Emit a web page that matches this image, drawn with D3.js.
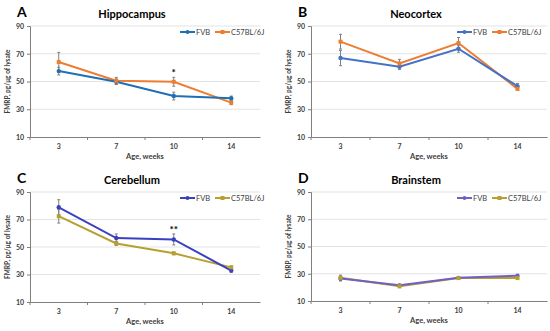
<!DOCTYPE html>
<html>
<head>
<meta charset="utf-8">
<script src="https://cdn.jsdelivr.net/npm/d3@7"></script>
<style>
  body { margin: 0; background: #fff; }
  text { font-family: Lato, "Open Sans", sans-serif; }
</style>
</head>
<body>
<div id="chart"></div>
<script>
const ages = ["3", "7", "10", "14"];
const yTicks = [10, 30, 50, 70, 90];
const seriesNames = ["FVB", "C57BL/6J"];

// panel values (mean, sem)
const hippoFVB = [57.5, 49.8, 39.5, 38];
const hippoFVBErr = [2.8, 2, 2.8, 1.5];
const hippoC57 = [64, 50.5, 49.8, 34.8];
const hippoC57Err = [7, 2.5, 3.2, 1.5];

const neoFVB = [66.9, 60.6, 73.6, 46.6];
const neoFVBErr = [5.5, 2, 2.5, 2];
const neoC57 = [78.7, 63, 77.7, 44.7];
const neoC57Err = [5.3, 3, 4, 1];

const cereFVB = [78.9, 56.5, 55.5, 32.9];
const cereFVBErr = [5.5, 3, 4, 1.5];
const cereC57 = [72.4, 52.6, 45.4, 35.2];
const cereC57Err = [5, 1.5, 1, 1];

const brainFVB = [26.5, 21.5, 27, 28.5];
const brainFVBErr = [1.8, 1, 1, 1];
const brainC57 = [27, 20.8, 26.8, 26.8];
const brainC57Err = [2, 1, 0.8, 1];

const panels = [
  {letter: "A", title: "Hippocampus", x0: 30, x1: 260, y0: 26, y1: 137, legendX: 180,
   colors: ["#1f6fb2", "#ed7d31"], a: hippoFVB, aErr: hippoFVBErr, b: hippoC57, bErr: hippoC57Err,
   star: {i: 2, text: "*"}},
  {letter: "B", title: "Neocortex", x0: 311, x1: 547, y0: 26, y1: 137, legendX: 457,
   colors: ["#4472c4", "#ed7d31"], a: neoFVB, aErr: neoFVBErr, b: neoC57, bErr: neoC57Err},
  {letter: "C", title: "Cerebellum", x0: 30, x1: 260, y0: 192, y1: 302, legendX: 180,
   colors: ["#3b40c0", "#b7a030"], a: cereFVB, aErr: cereFVBErr, b: cereC57, bErr: cereC57Err,
   star: {i: 2, text: "**"}},
  {letter: "D", title: "Brainstem", x0: 311, x1: 547, y0: 192, y1: 301, legendX: 457,
   colors: ["#7060c4", "#b7a030"], a: brainFVB, aErr: brainFVBErr, b: brainC57, bErr: brainC57Err}
];

const svg = d3.select("#chart").append("svg")
  .attr("width", 550).attr("height", 331);

panels.forEach(p => {
  const g = svg.append("g");
  const x = d3.scaleBand().domain(ages).range([p.x0, p.x1]);
  const y = d3.scaleLinear().domain([10, 90]).range([p.y1, p.y0]);
  const cx = d => x(d) + x.bandwidth() / 2;
  const mid = (p.x0 + p.x1) / 2;

  // gridlines
  g.selectAll(".grid").data(yTicks.slice(1))
    .enter().append("line")
    .attr("x1", p.x0).attr("x2", p.x1)
    .attr("y1", d => y(d)).attr("y2", d => y(d))
    .style("stroke", "#e3e3e3").style("stroke-width", 1);

  const yAxis = g.append("g")
    .attr("transform", "translate(" + p.x0 + ",0)")
    .call(d3.axisLeft(y).tickValues(yTicks).tickSize(3).tickPadding(3));
  const xAxis = g.append("g")
    .attr("transform", "translate(0," + p.y1 + ")")
    .call(d3.axisBottom(x).tickSize(0).tickPadding(7));
  xAxis.selectAll(".tick").append("line")
    .attr("x1", -x.bandwidth() / 2).attr("x2", -x.bandwidth() / 2)
    .attr("y1", 0).attr("y2", 3).style("stroke", "#7f7f7f");
  [yAxis, xAxis].forEach(a => {
    a.select(".domain").style("stroke", "#7f7f7f");
    a.selectAll(".tick line").style("stroke", "#7f7f7f");
    a.selectAll("text").style("font-size", "7px").style("font-weight", "bold").style("fill", "#404040");
  });

  // labels
  g.append("text")
    .attr("x", mid).attr("y", p.y1 + 22)
    .attr("text-anchor", "middle")
    .style("font-size", "7.5px").style("font-weight", "bold").style("fill", "#404040")
    .text("Age, weeks");
  g.append("text")
    .attr("transform", "translate(" + (p.x0 - 20) + "," + ((p.y0 + p.y1) / 2) + ") rotate(-90)")
    .attr("text-anchor", "middle")
    .style("font-size", "6.5px").style("font-weight", "bold").style("fill", "#404040")
    .text("FMRP, pg/μg of lysate");
  g.append("text")
    .attr("x", mid - 13).attr("y", p.y0 - 8)
    .attr("text-anchor", "middle")
    .style("font-size", "11px").style("font-weight", "bold").style("fill", "#000")
    .text(p.title);
  g.append("text")
    .attr("x", p.x0 - 13).attr("y", p.y0 - 9)
    .style("font-size", "14px").style("font-weight", "bold").style("fill", "#000")
    .text(p.letter);

  const series = [
    {vals: p.a, err: p.aErr, color: p.colors[0], shape: "circle"},
    {vals: p.b, err: p.bErr, color: p.colors[1], shape: "square"}
  ];

  const line = d3.line().x((d, i) => cx(ages[i])).y(d => y(d));

  series.slice().reverse().forEach(s => {
    g.append("path").datum(s.vals)
      .attr("d", line)
      .style("fill", "none").style("stroke", s.color).style("stroke-width", 2);
  });

  series.forEach(s => {
    const eb = g.append("g");
    s.vals.forEach((v, i) => {
      const px = cx(ages[i]);
      eb.append("line").attr("x1", px).attr("x2", px)
        .attr("y1", y(v - s.err[i])).attr("y2", y(v + s.err[i]));
      [v - s.err[i], v + s.err[i]].forEach(e => {
        eb.append("line").attr("x1", px - 1.5).attr("x2", px + 1.5)
          .attr("y1", y(e)).attr("y2", y(e));
      });
    });
    eb.selectAll("line").style("stroke", "#808080").style("stroke-width", 1);
  });

  series.forEach(s => {
    if (s.shape === "circle") {
      g.selectAll(null).data(s.vals).enter().append("circle")
        .attr("cx", (d, i) => cx(ages[i])).attr("cy", d => y(d)).attr("r", 2.2)
        .style("fill", s.color);
    } else {
      g.selectAll(null).data(s.vals).enter().append("rect")
        .attr("x", (d, i) => cx(ages[i]) - 2).attr("y", d => y(d) - 2)
        .attr("width", 4).attr("height", 4)
        .style("fill", s.color);
    }
  });

  if (p.star) {
    const top = Math.max(p.a[p.star.i] + p.aErr[p.star.i], p.b[p.star.i] + p.bErr[p.star.i]);
    g.append("text")
      .attr("x", cx(ages[p.star.i])).attr("y", y(top) - 1)
      .attr("text-anchor", "middle")
      .style("font-size", "10px").style("font-weight", "bold")
      .text(p.star.text);
  }

  // legend
  const lx = p.legendX, ly = p.y0 + 6;
  seriesNames.forEach((name, i) => {
    const ox = lx + i * 35;
    g.append("line").attr("x1", ox).attr("x2", ox + 15)
      .attr("y1", ly).attr("y2", ly)
      .style("stroke", series[i].color).style("stroke-width", 2);
    if (i === 0) {
      g.append("circle").attr("cx", ox + 7.5).attr("cy", ly).attr("r", 2).style("fill", series[i].color);
    } else {
      g.append("rect").attr("x", ox + 5.5).attr("y", ly - 2).attr("width", 4).attr("height", 4).style("fill", series[i].color);
    }
    g.append("text").attr("x", ox + 16).attr("y", ly + 2.5)
      .style("font-size", "7.5px").style("fill", "#404040")
      .text(name);
  });
});
</script>
</body>
</html>
